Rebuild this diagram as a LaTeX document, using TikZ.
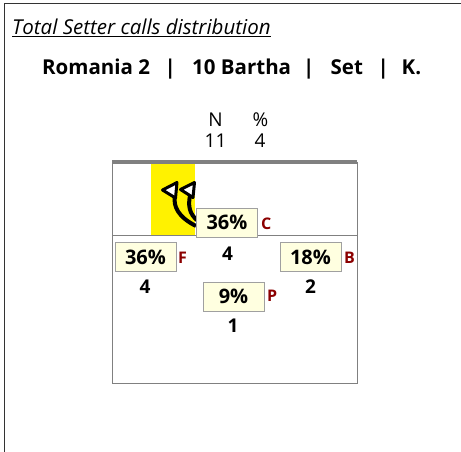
\documentclass[tikz,border=0pt]{standalone}
\usepackage{fontspec}
\setmainfont{Open Sans}
\definecolor{cream}{HTML}{FFFFE0}
\definecolor{zonered}{HTML}{8B0000}
\definecolor{courtgray}{HTML}{808080}
\definecolor{boxgray}{HTML}{A0A0A0}
\begin{document}
\begin{tikzpicture}[x=1pt,y=-1pt,
  pct/.style={draw=boxgray, fill=cream, line width=0.8pt, font=\bfseries\fontsize{20}{20}\selectfont, minimum width=61pt, minimum height=29pt, inner sep=0pt},
  zone/.style={text=zonered, font=\bfseries\fontsize{16}{16}\selectfont, inner sep=0pt},
  cnt/.style={font=\bfseries\fontsize{19}{19}\selectfont, inner sep=0pt},
  hdr/.style={font=\fontsize{19}{19}\selectfont, inner sep=0pt},
  shaft/.style={line width=4pt, black},
  head/.style={fill=white, draw=black, line width=3pt, line join=round}
]
\useasboundingbox (0,0) rectangle (461,452);
% frame
\draw[line width=1pt, black!80] (4,452) -- (4,4) -- (461,4);
% titles
\node[anchor=base west, inner sep=0pt, font=\itshape\fontsize{20.5}{20.5}\selectfont] (title) at (12,35) {\underline{Total Setter calls distribution}};
\node[anchor=base west, inner sep=0pt, font=\bfseries\fontsize{20.5}{20.5}\selectfont] (sub) at (42,75)
  {\rlap{Romania 2}\hspace{128pt}\makebox[0pt]{|}\hspace{22pt}\rlap{10 Bartha}\hspace{116.5pt}\makebox[0pt]{|}\hspace{22pt}\rlap{Set}\hspace{52.5pt}\makebox[0pt]{|}\hspace{18.5pt}K.};
% header
\node[hdr] (hN) at (215.5,119.5) {N};
\node[hdr] (hP) at (260.5,119.5) {\%};
\node[hdr] (vN) at (215.5,140.5) {11};
\node[hdr] (vP) at (260,140.5) {4};
% court
\fill[yellow] (151,162) rectangle (195,235);
\draw[courtgray, line width=0.9pt] (112,162) rectangle (357,383);
\draw[courtgray, line width=0.9pt] (112,235) -- (357,235);
\draw[courtgray, line width=4pt] (112,162) -- (357,162);
% arrows
\coordinate (a1s) at (196,226);
\coordinate (a1b) at (175,196);
\coordinate (a2s) at (198,221);
\coordinate (a2b) at (190,196);
\draw[shaft] (a1s) .. controls (178,217) and (173,206) .. (a1b);
\draw[shaft] (a2s) .. controls (189,214) and (188,205) .. (a2b);
\draw[head] (162.5,190) -- (177,182.5) -- (175.5,198) -- cycle;
\draw[head] (180.5,189.5) -- (194.5,182.5) -- (193,197.5) -- cycle;
% zones
\node[pct] (bC) at (227,222.5) {36\%};
\node[zone, anchor=west] (zC) at (261,224) {C};
\node[cnt] (nC) at (227.5,254) {4};
\node[pct] (bF) at (145.5,257) {36\%};
\node[zone, anchor=west] (zF) at (178,257.5) {F};
\node[cnt] (nF) at (145,287) {4};
\node[pct] (bB) at (310.5,257) {18\%};
\node[zone, anchor=west] (zB) at (344,257.5) {B};
\node[cnt] (nB) at (310.5,287) {2};
\node[pct] (bP) at (233.5,296.5) {9\%};
\node[zone, anchor=west] (zP) at (267,296) {P};
\node[cnt] (nP) at (233,325.5) {1};
\end{tikzpicture}
\end{document}
